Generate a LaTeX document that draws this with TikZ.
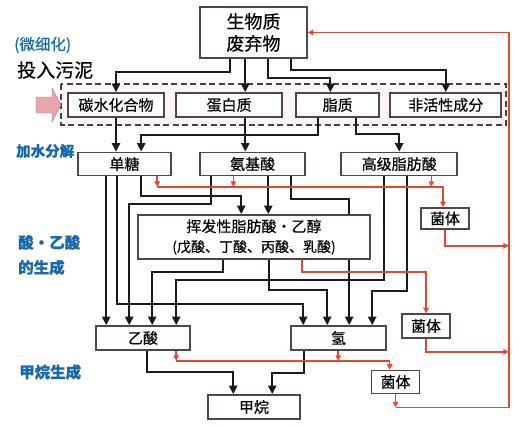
\documentclass[tikz,border=0pt]{standalone}
\usepackage{fontspec}
\setmainfont{Noto Sans CJK SC}[FakeBold=0.4]
\usetikzlibrary{arrows.meta, positioning, backgrounds}
\definecolor{boxcolor}{RGB}{80,70,70}
\definecolor{flowcolor}{RGB}{30,25,25}
\definecolor{cellcolor}{RGB}{228,72,50}
\definecolor{stagecolor}{RGB}{25,105,170}
\definecolor{inputcolor}{RGB}{232,165,172}
\definecolor{frameedge}{RGB}{70,65,65}

\begin{document}
\begin{tikzpicture}[x=1bp, y=-1bp,
    % Styles
    box/.style={draw=boxcolor, fill=white, line width=1.6pt, minimum height=24bp, inner sep=0, font=\fontsize{15bp}{18bp}\selectfont},
    cell box/.style={box, minimum width=48bp, minimum height=23bp},
    stage label/.style={stagecolor, font=\fontsize{15.5bp}{25bp}\selectfont\bfseries, anchor=west, align=left, inner sep=0},
    flow/.style={draw=flowcolor, line width=2.2pt, -{Triangle[length=8.5bp, width=8bp]}},
    cell flow/.style={draw=cellcolor, line width=1.5pt, -{Triangle[length=5.5bp, width=5.5bp]}},
    input frame/.style={draw=frameedge, line width=2pt, dash pattern=on 6bp off 3.5bp, fill=inputcolor!12},
]
    \useasboundingbox (0,0) rectangle (528,428);

    % === Input ===
    \node[box, minimum width=107bp, minimum height=51bp, align=center, font=\fontsize{18bp}{22bp}\selectfont] (biomass) at (253.5,32.5) {生物质\\废弃物};

    % Substrates (inside dashed frame)
    \node[box, minimum width=96bp] (sub-carb) at (116,105) {碳水化合物};
    \node[box, minimum width=106bp, right=10.5bp of sub-carb] (sub-protein) {蛋白质};
    \node[box, minimum width=83bp, right=12.5bp of sub-protein] (sub-lipid) {脂质};
    \node[box, minimum width=111bp, right=9.5bp of sub-lipid] (sub-inert) {非活性成分};

    % === Hydrolysis ===
    \node[box, minimum width=93bp, minimum height=23bp] (hyd-sugar) at (124.5,164) {单糖};
    \node[box, minimum width=105bp, minimum height=23bp, right=27.5bp of hyd-sugar] (hyd-amino) {氨基酸};
    \node[box, minimum width=116bp, minimum height=23bp, right=34.5bp of hyd-amino] (hyd-lcfa) {高级脂肪酸};
    \node[cell box, minimum height=21bp] (cell-1) at (445,218.5) {菌体};

    % === Acid formation ===
    \node[box, minimum width=232bp, minimum height=44bp, align=center, font=\fontsize{15bp}{20bp}\selectfont] (vfa) at (254,237) {挥发性脂肪酸・乙醇\\{\fontsize{14bp}{20bp}\selectfont (戊酸、丁酸、丙酸、乳酸)}};
    \node[box, minimum width=94bp] (acid-acetic) at (143,338) {乙酸};
    \node[box, minimum width=95bp] (acid-hydrogen) at (338.5,338) {氢};
    \node[cell box, minimum height=24bp] (cell-2) at (426,326) {菌体};

    % === Methane formation ===
    \node[cell box] (cell-3) at (395.5,382) {菌体};
    \node[box, minimum width=92bp] (methane) at (254,407) {甲烷};

    % Stage labels on the left
    \node[stage label, font=\fontsize{15.5bp}{18bp}\selectfont] (label-fine) at (14,45) {(微细化)};
    \node[stage label, black, font=\fontsize{19bp}{22bp}\selectfont] (label-input) at (17,70) {投入污泥};
    \node[stage label, font=\fontsize{14.5bp}{18bp}\selectfont\bfseries] (label-hydrolysis) at (16,151) {加水分解};
    \node[stage label] (label-acid) at (18,255) {酸・乙酸\\的生成};
    \node[stage label] (label-methane) at (19,372) {甲烷生成};

    \begin{scope}[on background layer]
        % Dashed frame round the substrates
        \draw[input frame] ([xshift=-6bp, yshift=8bp]sub-carb.north west) rectangle ([xshift=4bp, yshift=-7bp]sub-inert.south east);
        % Sludge input arrow
        \filldraw[fill=inputcolor, draw=inputcolor!75!black, line width=0.4pt] (36,97) -- (52,97) -- (52,88) -- (61,105) -- (52,122) -- (52,113) -- (36,113) -- cycle;

        % Biomass to substrates
        \draw[flow] ([xshift=31bp]biomass.south west) -- ++(0,13) -| (sub-carb.north);
        \draw[flow] ([xshift=46bp]biomass.south west) -- ([xshift=46bp]biomass.south west |- sub-protein.north);
        \draw[flow] ([xshift=69bp]biomass.south west) -- ++(0,19) -| ([xshift=35bp]sub-lipid.north west);
        \draw[flow] ([xshift=92bp]biomass.south west) -- ++(0,11) -| (sub-inert.north);

        % Substrates to hydrolysis products
        \draw[flow] (sub-carb.south) -- (sub-carb.south |- hyd-sugar.north);
        \draw[flow] ([xshift=70bp]sub-protein.south west) -- ([xshift=70bp]sub-protein.south west |- hyd-amino.north);
        \draw[flow] ([xshift=23bp]sub-lipid.south west) -- ++(0,17) -| ([xshift=64bp]hyd-sugar.north west);
        \draw[flow] ([xshift=61bp]sub-lipid.south west) -- ++(0,16) -| (hyd-lcfa.north);

        % Hydrolysis products to acid formation
        \draw[flow] ([xshift=29bp]hyd-sugar.south west) -- ([xshift=29bp]hyd-sugar.south west |- acid-acetic.north);
        \draw[flow] ([xshift=40bp]hyd-sugar.south west) -- ++(0,128) -| ([xshift=13bp]acid-hydrogen.north west);
        \draw[flow] ([xshift=64bp]hyd-sugar.south west) -- ++(0,20) -| ([xshift=104bp]vfa.north west);
        \draw[flow] ([xshift=12bp]hyd-amino.south west) -- ++(0,28) -| ([xshift=34bp]acid-acetic.north west);
        \draw[flow] ([xshift=69bp]hyd-amino.south west) -- ([xshift=69bp]hyd-amino.south west |- vfa.north);
        \draw[flow] ([xshift=92bp]hyd-amino.south west) -- ++(0,23) -| ([xshift=59bp]acid-hydrogen.north west);
        \draw[flow] ([xshift=44bp]hyd-lcfa.south west) -- ++(0,104) -| ([xshift=81bp]acid-acetic.north west);
        \draw[flow] ([xshift=67bp]hyd-lcfa.south west) -- ++(0,115) -| ([xshift=82bp]acid-hydrogen.north west);
        \draw[flow] ([xshift=86bp]vfa.south west) -- ++(0,12) -| ([xshift=57bp]acid-acetic.north west);
        \draw[flow] ([xshift=132bp]vfa.south west) -- ++(0,30) -| ([xshift=37bp]acid-hydrogen.north west);

        % Acetic acid and hydrogen to methane
        \draw[flow] ([xshift=52bp]acid-acetic.south west) -- ++(0,21) -| ([xshift=26bp]methane.north west);
        \draw[flow] ([xshift=14bp]acid-hydrogen.south west) -- ++(0,22) -| ([xshift=65bp]methane.north west);

        % Cell growth (red)
        \draw[cell flow] ([xshift=80bp]hyd-sugar.south west) -- ++(0,10.5) coordinate (cell-in-1);
        \draw[cell flow] ([xshift=34bp]hyd-amino.south west) -- ++(0,10.5);
        \draw[cell flow] ([xshift=91bp]hyd-lcfa.south west) -- ++(0,10.5);
        \draw[cell flow] (cell-in-1) -| ([xshift=-2bp]cell-1.north);
        \draw[cell flow] ([xshift=165bp]vfa.south west) -- ++(0,12) -| (cell-2.north);
        \draw[cell flow] ([xshift=81bp]acid-acetic.south west) -- ++(0,10) coordinate (cell-in-3);
        \draw[cell flow] ([xshift=48bp]acid-hydrogen.south west) -- ++(0,10);
        \draw[cell flow] (cell-in-3) -| ([xshift=19bp]cell-3.north west);

        % Cells back to the input
        \coordinate (rail) at ([xshift=201bp]biomass.east);
        \draw[cell flow] (cell-1.south) -- ++(0,16) coordinate (cell-out-1) -- (cell-out-1 -| rail);
        \draw[cell flow] (cell-2.south) -- ++(0,13) coordinate (cell-out-2) -- (cell-out-2 -| rail);
        \draw[cell flow] (cell-3.south) -- ++(0,13) coordinate (cell-out-3);
        \draw[cell flow] (cell-out-3) -| (rail) -- (biomass.east);
    \end{scope}
\end{tikzpicture}
\end{document}
